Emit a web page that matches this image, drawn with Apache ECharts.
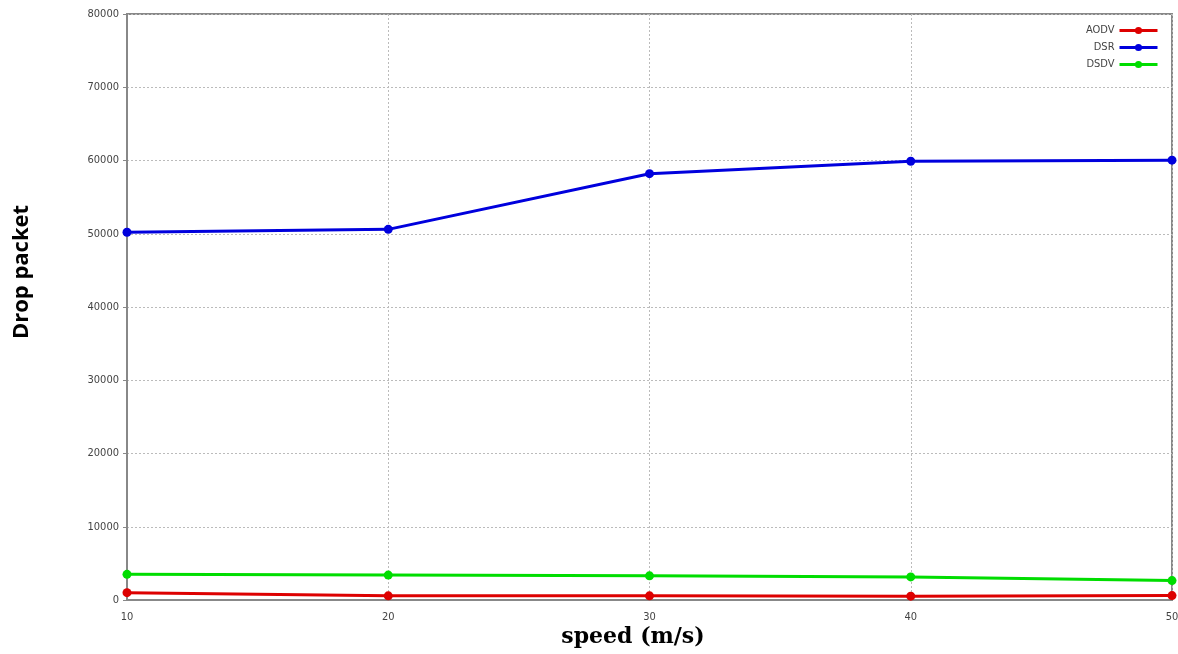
<!DOCTYPE html>
<html>
<head>
<meta charset="utf-8">
<script src="https://cdn.jsdelivr.net/npm/echarts@6/dist/echarts.min.js"></script>
<style>
html,body{margin:0;padding:0;background:#fff;}
#chart{width:1178px;height:654px;}
</style>
</head>
<body>
<div id="chart"></div>
<script>
const speeds = [10, 20, 30, 40, 50];
const aodv = [1000, 570, 570, 520, 600];
const dsr = [50200, 50600, 58200, 59900, 60050];
const dsdv = [3500, 3400, 3300, 3150, 2650];
const seriesNames = ['AODV', 'DSR', 'DSDV'];
const seriesColors = ['#dd0000', '#0000dd', '#00dd00'];
const seriesData = [aodv, dsr, dsdv];
const xTitle = 'speed (m/s)';
const yTitle = 'Drop packet';

const chart = echarts.init(document.getElementById('chart'));
const tickFont = {fontFamily: 'DejaVu Sans Condensed', fontSize: 11, color: '#444'};
chart.setOption({
  animation: false,
  grid: {left: 127, right: 6, top: 14, bottom: 54, show: true, borderColor: '#888', borderWidth: 2, backgroundColor: 'transparent', outerBoundsMode: 'none', containLabel: false},
  legend: {
    orient: 'vertical', right: 14, top: 20, align: 'right',
    itemWidth: 38, itemHeight: 9, itemGap: 6,
    lineStyle: {width: 3},
    textStyle: {fontFamily: 'DejaVu Sans Condensed', fontSize: 11, color: '#444'},
    data: seriesNames
  },
  graphic: [
    {type: 'text', x: 633, y: 637, style: {text: xTitle, font: 'bold 22px "DejaVu Serif"', fill: '#000', align: 'center', verticalAlign: 'middle'}},
    {type: 'text', x: 22, y: 272, rotation: Math.PI / 2, style: {text: yTitle, font: 'bold 22px "Open Sans"', fill: '#000', align: 'center', verticalAlign: 'middle'}}
  ],
  xAxis: {
    type: 'value', min: 10, max: 50, interval: 10,
    axisLine: {show: true, lineStyle: {color: '#888', width: 2}},
    axisTick: {show: false},
    axisLabel: Object.assign({margin: 12}, tickFont),
    splitLine: {show: true, lineStyle: {color: '#bbb', type: [2, 2], width: 1}}
  },
  yAxis: {
    type: 'value', min: 0, max: 80000, interval: 10000,
    axisLine: {show: true, lineStyle: {color: '#888', width: 2}},
    axisTick: {show: true, inside: false, length: 4, lineStyle: {color: '#888'}},
    axisLabel: Object.assign({margin: 8, formatter: v => String(v)}, tickFont),
    splitLine: {show: true, lineStyle: {color: '#bbb', type: [2, 2], width: 1}}
  },
  series: seriesNames.map((n, i) => ({
    name: n, type: 'line',
    data: speeds.map((s, j) => [s, seriesData[i][j]]),
    symbol: 'circle', symbolSize: 9,
    lineStyle: {width: 3, color: seriesColors[i]},
    itemStyle: {color: seriesColors[i]},
    z: 3
  }))
});
</script>
</body>
</html>
